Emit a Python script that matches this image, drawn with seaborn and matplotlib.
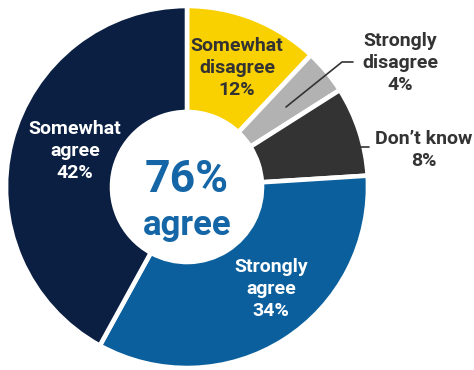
import matplotlib
matplotlib.use("Agg")
import matplotlib.pyplot as plt
import seaborn as sns

# Survey responses, clockwise from 12 o'clock
categories = ["Somewhat\ndisagree", "Strongly\ndisagree", "Don\u2019t know", "Strongly\nagree", "Somewhat\nagree"]
shares = [12, 4, 8, 34, 42]
agree_categories = ["Strongly\nagree", "Somewhat\nagree"]
center_caption = "agree"

sns.set_theme(style="white")
palette = ["#F9D000", "#B2B2B2", "#333333", "#0A5F9C", "#0B1F42"]
text_colors = ["#333333", "#333333", "#333333", "white", "white"]
label_font = ["Roboto", "DejaVu Sans"]

W, H, DPI = 474, 370, 100
fig = plt.figure(figsize=(W / DPI, H / DPI), dpi=DPI)
ax = fig.add_axes([0, 0, 1, 1])

# pie centre and radius in pixels; axes limits keep one data unit = R pixels on both axes
cx, cy, R = 187, 187, 181

ring = 1 - 75 / R
ax.pie(shares, colors=palette, startangle=90, counterclock=False, radius=1,
       wedgeprops=dict(width=ring, edgecolor="white", linewidth=3.3))
ax.set_aspect("auto")
ax.set_xlim(-cx / R, (W - cx) / R)
ax.set_ylim(-(H - cy) / R, cy / R)
ax.axis("off")


def px(x, y):
    return ((x - cx) / R, (cy - y) / R)


# label anchor points (pixel coordinates of each label block centre)
label_pos = [(237, 68), (400, 63), (424, 150), (271, 289), (75, 151)]
for cat, val, pos, col in zip(categories, shares, label_pos, text_colors):
    x, y = px(*pos)
    ax.text(x, y, f"{cat}\n{val}%", ha="center", va="center", color=col,
            fontsize=14, fontweight="bold", family=label_font, linespacing=1.3)

# leader lines for the thin outer slices
lx, ly = zip(px(286, 107), px(342, 62), px(353, 62))
ax.plot(lx, ly, color="#333333", lw=1.2)
lx, ly = zip(px(361, 147), px(369, 147))
ax.plot(lx, ly, color="#333333", lw=1.2)

total_agree = sum(v for c, v in zip(categories, shares) if c in agree_categories)
x, y = px(187, 180)
ax.text(x, y, f"{total_agree}%", ha="center", va="center", color="#1466A6",
        fontsize=32, fontweight="bold", family=label_font)
x, y = px(187, 226)
ax.text(x, y, center_caption, ha="center", va="center", color="#1466A6",
        fontsize=25, fontweight="bold", family=label_font)

fig.savefig("out.png", dpi=DPI, facecolor="white")
